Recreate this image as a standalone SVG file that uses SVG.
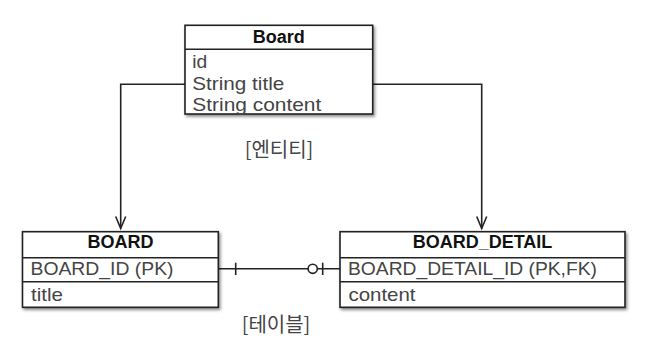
<svg xmlns="http://www.w3.org/2000/svg" width="650" height="353" viewBox="0 0 650 353">
<style>
.box{fill:#fff;stroke:#222;stroke-width:1.6}
.div{stroke:#222;stroke-width:1.6}
.hdr{font-family:"Liberation Sans",Arial,sans-serif;font-size:18px;font-weight:bold;fill:#111;text-anchor:middle}
.row{font-family:"Liberation Sans",Arial,sans-serif;font-size:18.5px;fill:#444}
.lbl{font-family:"Noto Sans CJK KR",sans-serif;font-size:20px;fill:#444;text-anchor:middle}
.ln{fill:none;stroke:#222;stroke-width:1.6}
</style>
<defs>
<filter id="sh" x="-10%" y="-10%" width="120%" height="130%">
<feDropShadow dx="1.5" dy="2" stdDeviation="1.5" flood-color="#000" flood-opacity="0.45"/>
</filter>
<marker id="arr" markerWidth="16" markerHeight="14" refX="14" refY="7" orient="auto" markerUnits="userSpaceOnUse" viewBox="0 0 16 14">
<path d="M2,2 L14,7 L2,12" fill="none" stroke="#222" stroke-width="1.6"/>
</marker>
</defs>
<g id="connectors">
<path class="ln" d="M185,84.3 H120.7 V228.5" marker-end="url(#arr)"/>
<path class="ln" d="M372.7,84.3 H481.7 V228.5" marker-end="url(#arr)"/>
<path class="ln" d="M218.5,268.8 H340"/>
<path class="ln" d="M235.7,262.7 V275"/>
<circle cx="312.7" cy="268.8" r="4.6" fill="#fff" stroke="#222" stroke-width="1.6"/>
<path class="ln" d="M322.7,262.7 V275"/>
</g>
<g id="node-Board">
<rect class="box" x="185" y="25.3" width="187.7" height="88.7" filter="url(#sh)"/>
<line class="div" x1="185" y1="49.3" x2="372.7" y2="49.3"/>
<text class="hdr" x="278.8" y="43.3">Board</text>
<text class="row" x="192.3" y="68" textLength="15" lengthAdjust="spacingAndGlyphs">id</text>
<text class="row" x="192.3" y="89.5" textLength="92" lengthAdjust="spacingAndGlyphs">String title</text>
<text class="row" x="192.3" y="110.5" textLength="129" lengthAdjust="spacingAndGlyphs">String content</text>
</g>
<g id="node-BOARD">
<rect class="box" x="22.5" y="231.7" width="195.8" height="75.6" filter="url(#sh)"/>
<line class="div" x1="22.5" y1="257.7" x2="218.3" y2="257.7"/>
<line class="div" x1="22.5" y1="281.7" x2="218.3" y2="281.7"/>
<text class="hdr" x="120.4" y="248.3">BOARD</text>
<text class="row" x="30.5" y="275" textLength="143" lengthAdjust="spacingAndGlyphs">BOARD_ID (PK)</text>
<text class="row" x="31" y="301" textLength="32" lengthAdjust="spacingAndGlyphs">title</text>
</g>
<g id="node-BOARD_DETAIL">
<rect class="box" x="340" y="231.7" width="285" height="75.6" filter="url(#sh)"/>
<line class="div" x1="340" y1="257.7" x2="625" y2="257.7"/>
<line class="div" x1="340" y1="281.7" x2="625" y2="281.7"/>
<text class="hdr" x="482.5" y="248.3">BOARD_DETAIL</text>
<text class="row" x="348" y="275" textLength="249" lengthAdjust="spacingAndGlyphs">BOARD_DETAIL_ID (PK,FK)</text>
<text class="row" x="348.5" y="301" textLength="67" lengthAdjust="spacingAndGlyphs">content</text>
</g>
<g id="labels">
<text class="lbl" x="279" y="157">[엔티티]</text>
<text class="lbl" x="276" y="332">[테이블]</text>
</g>
</svg>
